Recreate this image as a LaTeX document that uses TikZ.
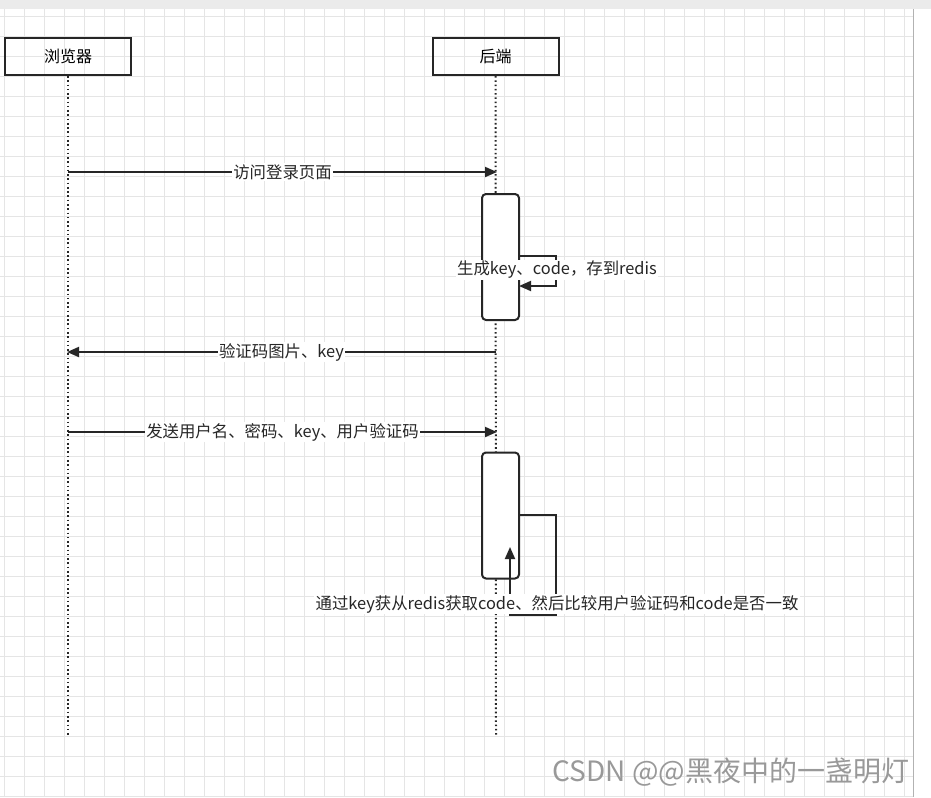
\documentclass[tikz,border=0pt]{standalone}
\usepackage{fontspec}
\setmainfont{Noto Sans CJK SC}
\usetikzlibrary{arrows.meta}
\begin{document}
\begin{tikzpicture}[x=0.75pt,y=-0.75pt,
  actor/.style={draw=black!85,line width=1.5pt,minimum width=94.5pt,minimum height=27.75pt,inner sep=0pt,font=\fontsize{12}{14}\selectfont},
  act/.style={draw=black!85,line width=1.5pt,rounded corners=3pt,fill=white,minimum width=27.75pt,minimum height=94.5pt,inner sep=0pt},
  life/.style={line width=1.5pt,dash pattern=on 1.2pt off 2pt,black!85},
  msg/.style={line width=1.4pt,black!85,-{Triangle[length=9pt,width=7.5pt]}},
  lbl/.style={fill=white,inner sep=1pt,font=\fontsize{12.3}{14}\selectfont,text=black!85}]
\useasboundingbox (0,0) rectangle (931,797);
\fill[white] (0,0) rectangle (931,797);
\fill[black!8] (0,0) rectangle (931,9);
\foreach \x in {4,24,...,904} \draw[black!10,line width=0.4pt] (\x,9) -- (\x,797);
\foreach \y in {16,36,...,796} \draw[black!10,line width=0.4pt] (0,\y) -- (913,\y);
\draw[black!30] (913,9) -- (913,797);
\node[actor] (b) at (68,56.5) {浏览器};
\node[actor] (s) at (495.5,56.5) {后端};
\coordinate (bend) at (68,735);
\coordinate (send) at (496,735);
\draw[life] (b.south) -- (bend);
\draw[life] (s.south) -- (send);
\node[act] (a1) at (500.5,257) {};
\node[act] (a2) at (500.5,515.5) {};
\coordinate (b1) at (68,172); \coordinate (s1) at (497,172);
\draw[msg] (b1) -- node[lbl]{访问登录页面} (s1);
\coordinate (l1) at (556,256); \coordinate (l2) at (556,286); \coordinate (l3) at (519,286);
\draw[msg] (a1.east |- l1) -- (l1) -- (l2) -- (l3);
\node[lbl] at (557,270) {生成key、code，存到redis};
\coordinate (b2) at (67,352); \coordinate (s2) at (496,352);
\draw[msg] (s2) -- node[lbl]{验证码图片、key} (b2);
\coordinate (b3) at (68,432); \coordinate (s3) at (497,432);
\draw[msg] (b3) -- node[lbl]{发送用户名、密码、key、用户验证码} (s3);
\coordinate (m1) at (556,515); \coordinate (m2) at (556,615); \coordinate (m3) at (510,615); \coordinate (m4) at (510,547);
\draw[msg] (a2.east |- m1) -- (m1) -- (m2) -- (m3) -- (m4);
\node[lbl] at (557,604) {通过key获从redis获取code、然后比较用户验证码和code是否一致};
\node[text=black!40,font=\fontsize{21}{24}\selectfont,anchor=east] (w) at (914,772) {CSDN @@黑夜中的一盏明灯};
\end{tikzpicture}
\end{document}
